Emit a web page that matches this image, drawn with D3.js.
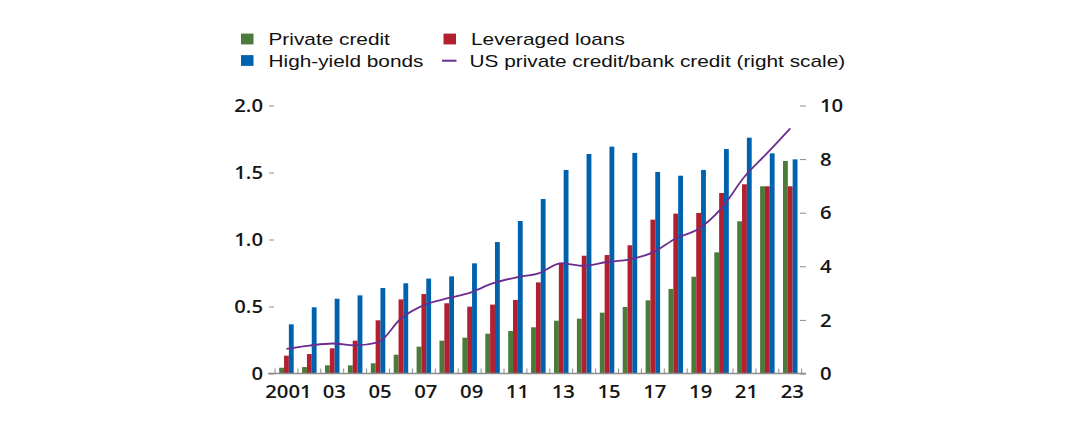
<!DOCTYPE html>
<html>
<head>
<meta charset="utf-8">
<script src="https://cdn.jsdelivr.net/npm/d3@7/dist/d3.min.js"></script>
<style>
  html, body { margin: 0; padding: 0; background: #fff; }
  svg { display: block; }
</style>
</head>
<body>
<svg id="chart" width="1080" height="432"></svg>
<script>
// ---------- data ----------
const years = [2001,2002,2003,2004,2005,2006,2007,2008,2009,2010,2011,2012,2013,2014,2015,2016,2017,2018,2019,2020,2021,2022,2023];
const privateCredit = [0.043,0.048,0.061,0.061,0.076,0.140,0.200,0.245,0.267,0.297,0.317,0.345,0.394,0.409,0.454,0.496,0.546,0.631,0.722,0.904,1.136,1.397,1.586];
const leveragedLoans = [0.133,0.145,0.188,0.245,0.397,0.553,0.593,0.524,0.499,0.514,0.549,0.680,0.827,0.879,0.884,0.957,1.148,1.193,1.198,1.347,1.412,1.397,1.397];
const highYieldBonds = [0.367,0.494,0.558,0.583,0.638,0.673,0.708,0.725,0.822,0.981,1.138,1.302,1.519,1.638,1.693,1.646,1.504,1.476,1.519,1.675,1.760,1.643,1.598];
const privateToBank = [0.92,1.04,1.12,1.05,1.16,2.05,2.55,2.80,3.01,3.36,3.58,3.74,4.11,4.02,4.16,4.26,4.52,5.04,5.40,6.17,7.34,8.23,9.15];
const leftTicks = [0,0.5,1.0,1.5,2.0];
const leftTickLabels = ["0","0.5","1.0","1.5","2.0"];
const rightTicks = [0,2,4,6,8,10];
const rightTickLabels = ["0","2","4","6","8","10"];
const xLabelYears = [2001,2003,2005,2007,2009,2011,2013,2015,2017,2019,2021,2023];
const xTickLabels = ["2001","03","05","07","09","11","13","15","17","19","21","23"];
const seriesNames = ["Private credit","Leveraged loans","High-yield bonds"];
const lineName = "US private credit/bank credit (right scale)";

// ---------- styles ----------
const colors = {"Private credit":"#4a7b3a","Leveraged loans":"#b21f2f","High-yield bonds":"#0061ad"};
const lineColor = "#6b2d8f";
const axisGray = "#8c8c8c";
const textColor = "#161616";
const axisFont = "'Open Sans', 'DejaVu Sans', sans-serif";
const legendFont = "'Liberation Sans', Arial, sans-serif";
const sx = 1.16;   // horizontal text stretch of reference
const sxLegend = 1.21;

const svg = d3.select("#chart");
svg.append("rect").attr("width",1080).attr("height",432).attr("fill","#fff");

const x = d3.scaleBand().domain(years).range([275, 801.7]).paddingInner(0).paddingOuter(0);
const x1 = d3.scaleBand().domain(seriesNames).range([4.2, x.bandwidth()-4.2]).padding(0);
const yL = d3.scaleLinear().domain([0,2]).range([373.5,105.5]);
const yR = d3.scaleLinear().domain([0,10]).range([373.5,105.5]);

const seriesData = {
  "Private credit": privateCredit,
  "Leveraged loans": leveragedLoans,
  "High-yield bonds": highYieldBonds
};

// ---------- bars ----------
const gBars = svg.append("g");
years.forEach((yr, i) => {
  const g = gBars.append("g").attr("transform", `translate(${x(yr)},0)`);
  seriesNames.forEach(s => {
    const v = seriesData[s][i];
    g.append("rect")
      .attr("x", x1(s))
      .attr("width", x1.bandwidth())
      .attr("y", yL(v))
      .attr("height", yL(0) - yL(v))
      .attr("fill", colors[s]);
  });
});

// ---------- baseline & x ticks ----------
svg.append("line")
  .attr("x1", 268).attr("x2", 806)
  .attr("y1", yL(0)).attr("y2", yL(0))
  .attr("stroke", axisGray).attr("stroke-width", 1.3);

const boundaries = years.map(yr => x(yr)).concat([x(years[years.length-1]) + x.bandwidth()]);
svg.append("g").selectAll("line").data(boundaries).join("line")
  .attr("x1", d => d).attr("x2", d => d)
  .attr("y1", yL(0)).attr("y2", yL(0) - 5)
  .attr("stroke", axisGray).attr("stroke-width", 1);

// x labels
svg.append("g").selectAll("text").data(xLabelYears).join("text")
  .attr("transform", (d) => `translate(${x(d) + x.bandwidth()/2 + 2},397.5) scale(${sx},1)`)
  .attr("text-anchor", "middle")
  .attr("font-family", axisFont).attr("font-weight", 600).attr("font-size", 17.5)
  .attr("fill", textColor)
  .text((d, i) => xTickLabels[i]);

// ---------- left axis ----------
const axL = d3.axisLeft(yL).tickValues(leftTicks).tickSize(5).tickPadding(0)
  .tickFormat((d, i) => leftTickLabels[i]);
const gL = svg.append("g").attr("transform", "translate(274,0)").call(axL);
gL.select(".domain").remove();
gL.selectAll(".tick line").attr("stroke", axisGray).attr("stroke-width", 1);
gL.selectAll(".tick text")
  .attr("x", null).attr("dy", null)
  .attr("transform", `translate(-11,6.2) scale(${sx},1)`)
  .attr("text-anchor", "end")
  .attr("font-family", axisFont).attr("font-weight", 600).attr("font-size", 17.5)
  .attr("fill", textColor);

// ---------- right axis ----------
const axR = d3.axisRight(yR).tickValues(rightTicks).tickSize(6).tickPadding(0)
  .tickFormat((d, i) => rightTickLabels[i]);
const gR = svg.append("g").attr("transform", "translate(800,0)").call(axR);
gR.select(".domain").remove();
gR.selectAll(".tick line").attr("stroke", axisGray).attr("stroke-width", 1);
gR.selectAll(".tick text")
  .attr("x", null).attr("dy", null)
  .attr("transform", `translate(20,6.2) scale(${sx},1)`)
  .attr("text-anchor", "start")
  .attr("font-family", axisFont).attr("font-weight", 600).attr("font-size", 17.5)
  .attr("fill", textColor);
gL.attr("font-family", null).attr("font-size", null);
gR.attr("font-family", null).attr("font-size", null);

// ---------- line ----------
const lineGen = d3.line()
  .x((d, i) => x(years[i]) + x.bandwidth()/2)
  .y(d => yR(d))
  .curve(d3.curveMonotoneX);
svg.append("path")
  .datum(privateToBank)
  .attr("d", lineGen)
  .attr("fill", "none")
  .attr("stroke", lineColor)
  .attr("stroke-width", 1.8)
  .attr("stroke-linejoin", "round");

// ---------- legend ----------
const legend = svg.append("g");
const legendItems = [
  {name: "Private credit", type: "rect", x: 241, y: 39},
  {name: "Leveraged loans", type: "rect", x: 443.5, y: 39},
  {name: "High-yield bonds", type: "rect", x: 241, y: 60.5},
  {name: lineName, type: "line", x: 442, y: 60.7}
];
legendItems.forEach(it => {
  if (it.type === "rect") {
    legend.append("rect")
      .attr("x", it.x).attr("y", it.y - 5.4)
      .attr("width", 12.5).attr("height", 10.8)
      .attr("fill", colors[it.name]);
  } else {
    legend.append("line")
      .attr("x1", it.x).attr("x2", it.x + 14.5)
      .attr("y1", it.y).attr("y2", it.y)
      .attr("stroke", lineColor).attr("stroke-width", 2);
  }
  legend.append("text")
    .attr("transform", `translate(${it.x + 27.5},${it.y + 6.2}) scale(${sxLegend},1)`)
    .attr("font-family", legendFont).attr("font-size", 17.2)
    .attr("fill", "#111")
    .text(it.name);
});
</script>
</body>
</html>
